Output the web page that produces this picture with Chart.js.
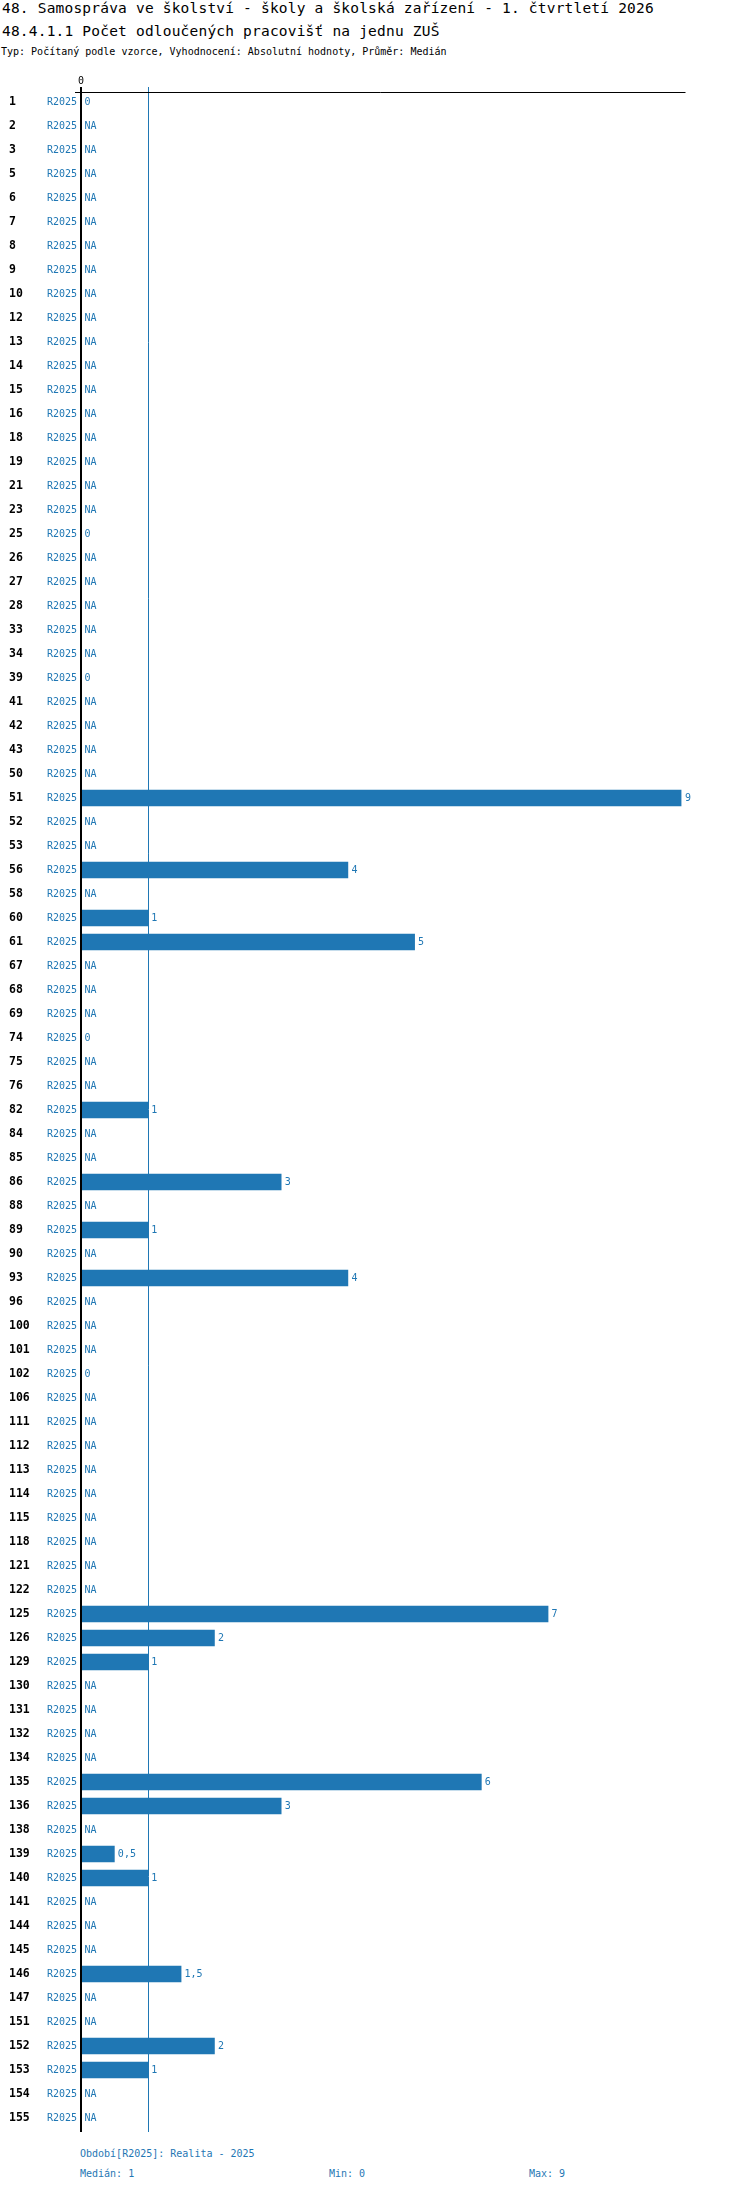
<!DOCTYPE html>
<html>
<head>
<meta charset="utf-8">
<script src="https://cdn.jsdelivr.net/npm/chart.js@4"></script>
<style>
  html, body { margin: 0; padding: 0; background: #fff; }
  #wrap { position: relative; width: 750px; height: 2192px; overflow: hidden; }
  .t { position: absolute; white-space: pre; font-family: "DejaVu Sans Mono", monospace; }
  .title { font-size: 14.5px; line-height: 18px; color: #000; letter-spacing: 0.2px; }
  .sub { font-size: 10px; line-height: 14px; color: #000; }
  .foot { font-size: 10px; line-height: 14px; color: #1f77b4; }
  canvas { position: absolute; left: 0; top: 0; }
</style>
</head>
<body>
<div id="wrap">
  <div class="t title" style="left:2px; top:-1px;">48. Samospráva ve školství - školy a školská zařízení - 1. čtvrtletí 2026</div>
  <div class="t title" style="left:2px; top:22px;">48.4.1.1 Počet odloučených pracovišť na jednu ZUŠ</div>
  <div class="t sub" style="left:1px; top:45px;">Typ: Počítaný podle vzorce, Vyhodnocení: Absolutní hodnoty, Průměr: Medián</div>
  <canvas id="c" width="750" height="2140"></canvas>
  <div class="t foot" style="left:80px; top:2147px;">Období[R2025]: Realita - 2025</div>
  <div class="t foot" style="left:80px; top:2167px;">Medián: 1</div>
  <div class="t foot" style="left:329px; top:2167px;">Min: 0</div>
  <div class="t foot" style="left:529px; top:2167px;">Max: 9</div>
</div>
<script>
const categories = ["1","2","3","5","6","7","8","9","10","12","13","14","15","16","18","19","21","23","25","26","27","28","33","34","39","41","42","43","50","51","52","53","56","58","60","61","67","68","69","74","75","76","82","84","85","86","88","89","90","93","96","100","101","102","106","111","112","113","114","115","118","121","122","125","126","129","130","131","132","134","135","136","138","139","140","141","144","145","146","147","151","152","153","154","155"];
const periodLabel = "R2025";
const valueMap = {"1":0,"25":0,"39":0,"51":9,"56":4,"60":1,"61":5,"74":0,"82":1,"86":3,"89":1,"93":4,"102":0,"125":7,"126":2,"129":1,"135":6,"136":3,"139":0.5,"140":1,"146":1.5,"152":2,"153":1};
const values = categories.map(c => (c in valueMap) ? valueMap[c] : null);
const medianValue = 1;
const xTicks = [0];
const xMax = 9;

const BLUE = "#1f77b4";
const MONO = "'DejaVu Sans Mono', monospace";

function fmt(v) { return String(v).replace(".", ","); }

const overlay = {
  id: "overlay",
  beforeDatasetsDraw(chart) {
    const ctx = chart.ctx, x = chart.scales.x, a = chart.chartArea;
    ctx.save();
    ctx.strokeStyle = BLUE; ctx.lineWidth = 1;
    const mx = Math.round(x.getPixelForValue(medianValue)) + 0.5;
    ctx.beginPath(); ctx.moveTo(mx, a.top - 3); ctx.lineTo(mx, a.bottom + 2); ctx.stroke();
    ctx.restore();
  },
  afterDatasetsDraw(chart) {
    const ctx = chart.ctx, x = chart.scales.x, y = chart.scales.y, a = chart.chartArea;
    const x0 = x.getPixelForValue(0);
    ctx.save();
    // top axis line
    ctx.strokeStyle = "#000"; ctx.lineWidth = 1;
    ctx.beginPath(); ctx.moveTo(a.left - 6, a.top + 2.5); ctx.lineTo(a.right + 4, a.top + 2.5); ctx.stroke();
    // zero line
    ctx.lineWidth = 2;
    ctx.beginPath(); ctx.moveTo(x0, a.top - 3); ctx.lineTo(x0, a.bottom + 2); ctx.stroke();
    // x tick labels
    ctx.fillStyle = "#000"; ctx.font = "10px " + MONO;
    ctx.textAlign = "center"; ctx.textBaseline = "middle";
    xTicks.forEach(t => ctx.fillText(String(t), x.getPixelForValue(t), a.top - 9));
    // row labels
    ctx.fillStyle = BLUE;
    categories.forEach((c, i) => {
      const yy = y.getPixelForValue(i);
      ctx.textAlign = "right";
      ctx.fillText(periodLabel, x0 - 4, yy);
      ctx.textAlign = "left";
      const v = values[i];
      if (v === null) ctx.fillText("NA", x0 + 3.5, yy);
      else ctx.fillText(fmt(v), x.getPixelForValue(v) + 3.5, yy);
    });
    ctx.restore();
  }
};

new Chart(document.getElementById("c"), {
  type: "bar",
  data: {
    labels: categories,
    datasets: [{ data: values, backgroundColor: BLUE, borderWidth: 0, barThickness: 16 }]
  },
  options: {
    indexAxis: "y",
    responsive: false,
    animation: false,
    devicePixelRatio: 1,
    layout: { padding: { left: 9, right: 68.5, top: 90, bottom: 10 } },
    scales: {
      x: { display: false, min: 0, max: xMax },
      y: {
        display: true,
        grid: { display: false, drawTicks: false },
        border: { display: false },
        afterFit(s) { s.width = 72; },
        ticks: {
          autoSkip: false,
          crossAlign: "far",
          padding: 0,
          color: "#000",
          font: { family: MONO, size: 11.5, weight: "bold" }
        }
      }
    },
    plugins: { legend: { display: false }, tooltip: { enabled: false } }
  },
  plugins: [overlay]
});
</script>
</body>
</html>
